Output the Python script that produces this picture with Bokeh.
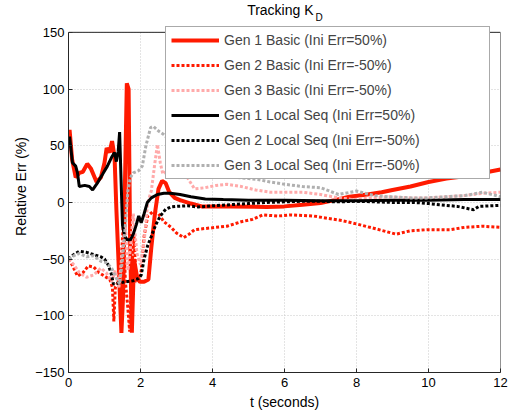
from bokeh.plotting import figure
from bokeh.models import Label, Range1d, Legend, LegendItem, FixedTicker, BoxAnnotation
from bokeh.embed import file_html
from bokeh.resources import INLINE

# ---------------- data ----------------
g1b_t = [0, 0.03, 0.1, 0.2, 0.3, 0.4, 0.52, 0.62, 0.78, 0.9, 1.0, 1.06, 1.14, 1.21, 1.28, 1.33, 1.4,
         1.47, 1.52, 1.57, 1.62, 1.67, 1.71, 1.76, 1.82, 1.9, 1.98, 2.1, 2.22, 2.3, 2.4, 2.5, 2.6, 2.7,
         2.8, 2.95, 3.1, 3.4, 3.7, 4.5, 5.5, 6.0, 6.5, 7.0, 7.4, 7.8, 8.3, 8.7, 9.0, 9.5, 10.0, 10.5,
         11.0, 11.5, 12.0]
g1b_v = [55, 64, 38, 22, 26, 27, 34, 30, 18, 22, 35, 48, 44, 54, 40, -6, -60,
         -115, -80, 20, 105, 100, -30, -115, -50, -65, -70, -70, -68, -40, -10, 12, 19, 17,
         9, 4, 2, -1, -3.5, -3.5, -4, -3.5, -2, -0.5, 2, 5, 7, 9, 11, 14, 18, 21,
         23, 26, 29]

g2b_t = [0, 0.1, 0.25, 0.4, 0.55, 0.7, 0.85, 1.0, 1.15, 1.22, 1.26, 1.3, 1.38, 1.45, 1.52, 1.58, 1.64,
         1.7, 1.76, 1.82, 1.88, 1.95, 2.02, 2.1, 2.2, 2.35, 2.5, 2.65, 2.85, 3.0, 3.2, 3.35, 3.5, 3.8,
         4.1, 4.4, 4.8, 5.1, 5.4, 5.8, 6.2, 6.8, 7.2, 7.6, 8.0, 8.5, 9.1, 9.5, 10.0, 10.6, 11.0, 11.5, 12.0]
g2b_v = [-50, -55, -65, -62, -56, -57, -62, -65, -68, -75, -105, -75, -70, -60, -20, -70, -90,
         -114, -60, -30, -70, -70, -60, -30, -12, -8, -10, -17, -22, -27, -31, -28, -24, -23,
         -22, -21, -17, -15, -11, -12, -11, -12, -14, -16, -19, -23, -28, -25, -24, -24, -22, -21, -22]

g3b_t = [0, 0.15, 0.3, 0.5, 0.7, 0.9, 1.05, 1.2, 1.3, 1.4, 1.5, 1.58, 1.65, 1.72, 1.8, 1.9, 2.0, 2.1,
         2.2, 2.3, 2.4, 2.47, 2.55, 2.62, 2.75, 2.9, 3.1, 3.3, 3.5, 3.8, 4.1, 4.4, 4.8, 5.2, 5.6, 6.0,
         6.5, 7.0, 7.5, 7.9, 8.4, 8.9, 9.5, 10.0, 10.5, 11.0, 11.5, 12.0]
g3b_v = [-50, -55, -62, -66, -64, -58, -62, -70, -60, -75, -40, -20, -60, -40, -10, -45, -55, -35,
         0, 10, 35, 51, 35, 25, 28, 26, 25, 22, 12, 13, 15, 16, 14, 11, 9, 9,
         9, 7, 4, 2.5, 4, 5, 4, 4, 5, 6, 8, 9]

g1l_t = [0, 0.03, 0.11, 0.2, 0.25, 0.3, 0.45, 0.58, 0.67, 0.8, 0.95, 1.08, 1.2, 1.28, 1.33, 1.38, 1.42,
         1.46, 1.5, 1.56, 1.63, 1.72, 1.8, 1.88, 1.95, 2.02, 2.1, 2.19, 2.3, 2.47, 2.65, 2.83, 3.1, 3.4,
         3.8, 4.3, 5.0, 6.0, 7.0, 8.0, 9.0, 10.0, 11.0, 12.0]
g1l_v = [50, 58, 35, 32, 26, 14, 15, 14, 11, 17, 25, 32, 40, 44, 36, 45, 62,
         20, -20, -30, -33, -33, -28, -20, -12, -18, -10, 0, 4, 7, 8, 8, 7, 5,
         3, 2.5, 2, 2, 1.5, 1.5, 2, 2, 2.5, 2.5]

g2l_t = [0, 0.1, 0.3, 0.5, 0.7, 0.9, 1.0, 1.1, 1.18, 1.25, 1.4, 1.6, 1.8, 1.95, 2.02, 2.1, 2.2, 2.3,
         2.42, 2.55, 2.7, 2.85, 3.0, 3.3, 3.6, 4.0, 4.5, 5.0, 5.5, 6.0, 6.5, 7.0, 7.5, 8.0, 8.5, 9.0,
         9.6, 10.0, 10.3, 10.8, 11.25, 11.4, 11.7, 12.0]
g2l_v = [-50, -47, -43, -44, -46, -48, -50, -55, -62, -72, -71, -70, -69, -67, -64, -50, -38, -30,
         -20, -12, -6, -4, -3.5, -3, -4, -3, -2, -1, 0, 0.5, 1, 1, 0.5, 1, 0.5, 0,
         0, -1, -2, -3.5, -6.5, -3.5, -3, -2.6]

g3l_t = [0, 0.15, 0.3, 0.5, 0.7, 0.9, 1.05, 1.2, 1.3, 1.42, 1.5, 1.58, 1.65, 1.72, 1.8, 1.95, 2.05,
         2.15, 2.28, 2.36, 2.5, 2.64, 2.9, 3.2, 3.6, 4.0, 4.4, 4.7, 5.0, 5.3, 5.6, 6.0, 6.5, 7.0, 7.5,
         8.0, 8.5, 8.9, 9.5, 10.0, 10.5, 11.0, 11.5, 12.0]
g3l_v = [-50, -47, -45, -48, -47, -52, -53, -58, -65, -72, -50, -20, 10, 22, 26, 28, 32,
         50, 66, 67, 63, 60, 52, 42, 34, 28, 24, 22, 21, 20, 18, 16, 14, 13, 7,
         10, 6, 5, 4, 4, 5, 6, 9, 5]

names = ["Gen 1 Basic (Ini Err=50%)", "Gen 2 Basic (Ini Err=-50%)", "Gen 3 Basic (Ini Err=-50%)",
         "Gen 1 Local Seq (Ini Err=50%)", "Gen 2 Local Seq (Ini Err=-50%)", "Gen 3 Local Seq (Ini Err=-50%)"]
x_ticks = [0, 2, 4, 6, 8, 10, 12]
y_ticks = [-150, -100, -50, 0, 50, 100, 150]
y_min, y_max = -150, 150
x_min, x_max = 0, 12

# ---------------- figure ----------------
FONT = "Liberation Sans"
AX = "#262626"
# the frame is extended upward (blank band) so the title and legend,
# which sit above the axes box, are drawn inside the frame
top_band = 32 * (y_max - y_min) / 342.0

p = figure(width=513, height=412, output_backend="svg", toolbar_location=None, title=None,
           x_range=Range1d(x_min, x_max), y_range=Range1d(y_min, y_max + top_band),
           min_border_left=68, min_border_right=13, min_border_top=0, min_border_bottom=38)
p.background_fill_color = "white"
p.border_fill_color = "white"
p.outline_line_color = None

for ax in (p.xaxis[0], p.yaxis[0]):
    ax.major_label_text_font = FONT
    ax.major_label_text_font_size = "13px"
    ax.major_label_text_color = "black"
    ax.axis_label_text_font = FONT
    ax.axis_label_text_font_size = "14px"
    ax.axis_label_text_font_style = "normal"
    ax.axis_label_text_color = "black"
    ax.axis_line_color = AX
    ax.major_tick_line_color = AX
    ax.major_tick_in = 4
    ax.major_tick_out = 0
    ax.minor_tick_line_color = None

p.xaxis[0].ticker = FixedTicker(ticks=x_ticks)
p.yaxis[0].ticker = FixedTicker(ticks=y_ticks)
p.yaxis[0].bounds = (y_min, y_max)
p.xaxis[0].axis_label = "t (seconds)"
p.yaxis[0].axis_label = "Relative Err (%)"
p.xaxis[0].major_label_standoff = 5
p.xaxis[0].axis_label_standoff = 4
p.yaxis[0].major_label_standoff = 4
p.yaxis[0].axis_label_standoff = 3

p.grid.grid_line_color = "#c8c8c8"
p.grid.grid_line_dash = "1 2"
p.grid.grid_line_width = 1

series = [
    (g1b_t, g1b_v, "#ff1a00", 4.0, "solid"),
    (g2b_t, g2b_v, "#ff1a00", 3.0, "3 2"),
    (g3b_t, g3b_v, "#ffaaaa", 3.0, "3 2"),
    (g1l_t, g1l_v, "black", 3.0, "solid"),
    (g2l_t, g2l_v, "black", 3.0, "3 2"),
    (g3l_t, g3l_v, "#b0b0b0", 3.0, "3 2"),
]
items = []
for (t, v, c, w, d), name in zip(series, names):
    r = p.line(t, v, line_color=c, line_width=w, line_dash=d)
    items.append(LegendItem(label=name, renderers=[r]))

# blank band above the axes box, then the axes box outline
p.add_layout(BoxAnnotation(bottom=y_max, fill_color="white", fill_alpha=1.0, line_color=None))
p.add_layout(BoxAnnotation(left=x_min, right=x_max, bottom=y_min, top=y_max,
                           fill_alpha=0, line_color=AX, line_width=1, line_alpha=1.0))

legend = Legend(items=items, location=(97, 193), margin=0, padding=5,
                spacing=9, glyph_width=48, glyph_height=10, label_height=10,
                label_width=260, label_standoff=5,
                label_text_font=FONT, label_text_font_size="14px",
                border_line_color="#555555", border_line_width=1,
                background_fill_color="white", background_fill_alpha=1.0)
p.add_layout(legend, "center")

# title "Tracking K_D"
p.add_layout(Label(x=6.806, y=169.3, text="Tracking K", text_align="right",
                   text_baseline="alphabetic", text_font=FONT, text_font_size="14px",
                   text_color="black"))
p.add_layout(Label(x=6.861, y=163.0, text="D", text_align="left",
                   text_baseline="alphabetic", text_font=FONT, text_font_size="10px",
                   text_color="black"))

open("out.html", "w").write(file_html(p, INLINE))
